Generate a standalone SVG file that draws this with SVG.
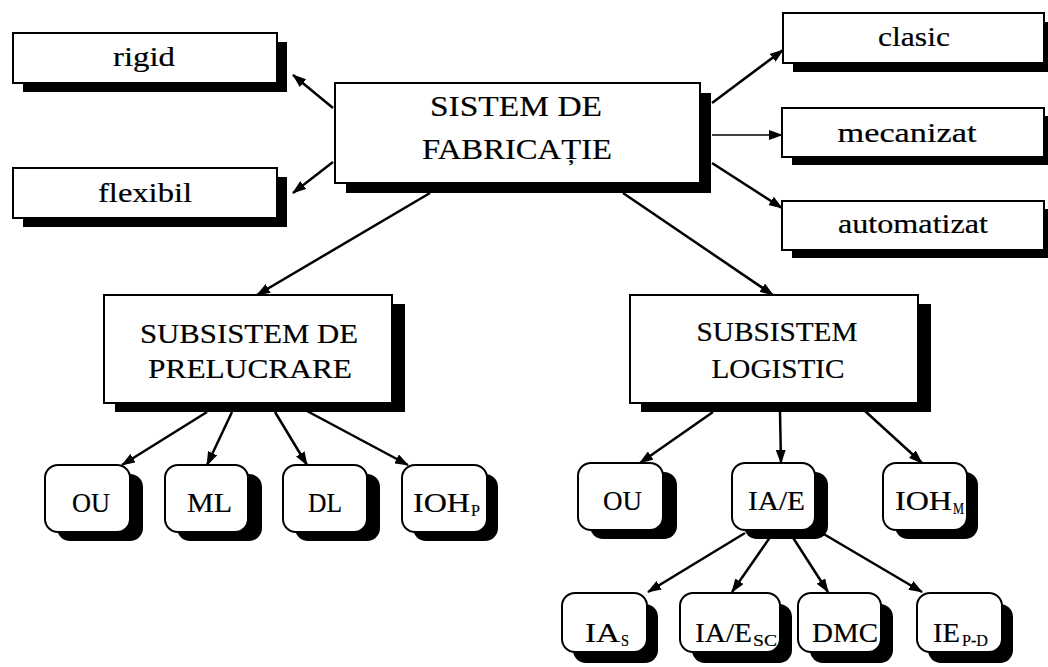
<svg xmlns="http://www.w3.org/2000/svg" width="1048" height="667" viewBox="0 0 1048 667">
  <style>
    .box { fill: #fff; stroke: #000; stroke-width: 2; }
    .shadow { fill: #000; }
    .lbl { font-family: "Liberation Serif", "Times New Roman", serif; fill: #000; stroke: #000; stroke-width: 0.2; }
    .sub { font-family: "Liberation Serif", "Times New Roman", serif; fill: #000; font-size: 17px; stroke: #000; stroke-width: 0.2; }
    .edge { stroke: #000; stroke-width: 2.5; fill: none; marker-end: url(#arrow); }
  </style>
  <defs>
    <marker id="arrow" markerUnits="userSpaceOnUse" markerWidth="14" markerHeight="10" refX="13" refY="5" orient="auto">
      <path d="M0,0 L14,5 L0,10 z" fill="#000"/>
    </marker>
  </defs>
  <rect width="1048" height="667" fill="#fff"/>

  <!-- connectors -->
  <g id="connectors">
    <line class="edge" x1="333" y1="108" x2="293" y2="75"/>
    <line class="edge" x1="333" y1="162" x2="293" y2="193"/>
    <line class="edge" x1="712" y1="103" x2="783" y2="50"/>
    <line class="edge" x1="712" y1="135" x2="782" y2="135" style="stroke-width:1.6"/>
    <line class="edge" x1="712" y1="163" x2="782" y2="208"/>
    <line class="edge" x1="430" y1="193" x2="257" y2="295"/>
    <line class="edge" x1="623" y1="193" x2="773" y2="295"/>
    <line class="edge" x1="207" y1="412" x2="122" y2="465"/>
    <line class="edge" x1="232" y1="412" x2="207" y2="465"/>
    <line class="edge" x1="275" y1="412" x2="307" y2="465"/>
    <line class="edge" x1="307" y1="411" x2="408" y2="465"/>
    <line class="edge" x1="713" y1="412" x2="640" y2="463"/>
    <line class="edge" x1="780" y1="412" x2="781" y2="463"/>
    <line class="edge" x1="865" y1="411" x2="922" y2="463"/>
    <line class="edge" x1="745" y1="533" x2="648" y2="592"/>
    <line class="edge" x1="773" y1="533" x2="732" y2="592"/>
    <line class="edge" x1="790" y1="533" x2="828" y2="592"/>
    <line class="edge" x1="822" y1="533" x2="922" y2="592"/>
  </g>

  <!-- top level -->
  <g id="sistem">
    <rect class="shadow" x="346" y="93" width="365" height="100"/>
    <rect class="box" x="335" y="83" width="365" height="100"/>
    <text class="lbl" x="516" y="116" font-size="30" text-anchor="middle" textLength="172" lengthAdjust="spacingAndGlyphs">SISTEM DE</text>
    <text class="lbl" x="517" y="159" font-size="30" text-anchor="middle" textLength="190" lengthAdjust="spacingAndGlyphs">FABRICAȚIE</text>
  </g>

  <!-- classification by flexibility -->
  <g id="rigid">
    <rect class="shadow" x="23" y="42" width="264" height="50"/>
    <rect class="box" x="13" y="33" width="264" height="50"/>
    <text class="lbl" x="144" y="66" font-size="27" text-anchor="middle" textLength="62" lengthAdjust="spacingAndGlyphs">rigid</text>
  </g>
  <g id="flexibil">
    <rect class="shadow" x="23" y="177" width="264" height="50"/>
    <rect class="box" x="13" y="168" width="264" height="50"/>
    <text class="lbl" x="145" y="202" font-size="27" text-anchor="middle" textLength="94" lengthAdjust="spacingAndGlyphs">flexibil</text>
  </g>

  <!-- classification by automation level -->
  <g id="clasic">
    <rect class="shadow" x="793" y="22" width="261" height="50"/>
    <rect class="box" x="783" y="13" width="261" height="50"/>
    <text class="lbl" x="914" y="46" font-size="27" text-anchor="middle" textLength="72" lengthAdjust="spacingAndGlyphs">clasic</text>
  </g>
  <g id="mecanizat">
    <rect class="shadow" x="792" y="116" width="262" height="49"/>
    <rect class="box" x="782" y="108" width="262" height="49"/>
    <text class="lbl" x="907" y="142" font-size="27" text-anchor="middle" textLength="139" lengthAdjust="spacingAndGlyphs">mecanizat</text>
  </g>
  <g id="automatizat">
    <rect class="shadow" x="792" y="209" width="262" height="49"/>
    <rect class="box" x="782" y="201" width="262" height="49"/>
    <text class="lbl" x="913" y="233" font-size="27" text-anchor="middle" textLength="150" lengthAdjust="spacingAndGlyphs">automatizat</text>
  </g>

  <!-- subsystems -->
  <g id="prelucrare">
    <rect class="shadow" x="115" y="304" width="290" height="108"/>
    <rect class="box" x="104" y="295" width="288" height="108"/>
    <text class="lbl" x="249" y="343" font-size="28" text-anchor="middle" textLength="218" lengthAdjust="spacingAndGlyphs">SUBSISTEM DE</text>
    <text class="lbl" x="250" y="378" font-size="28" text-anchor="middle" textLength="204" lengthAdjust="spacingAndGlyphs">PRELUCRARE</text>
  </g>
  <g id="logistic">
    <rect class="shadow" x="641" y="304" width="290" height="108"/>
    <rect class="box" x="630" y="295" width="288" height="108"/>
    <text class="lbl" x="777" y="341" font-size="28" text-anchor="middle" textLength="161" lengthAdjust="spacingAndGlyphs">SUBSISTEM</text>
    <text class="lbl" x="778" y="378" font-size="28" text-anchor="middle" textLength="133" lengthAdjust="spacingAndGlyphs">LOGISTIC</text>
  </g>

  <!-- processing subsystem components -->
  <g id="ou-p">
    <rect class="shadow" x="57" y="474" width="86" height="67" rx="13"/>
    <rect class="box" x="45" y="465" width="85" height="67" rx="13"/>
    <text class="lbl" x="72" y="512" font-size="28" textLength="38" lengthAdjust="spacingAndGlyphs">OU</text>
  </g>
  <g id="ml">
    <rect class="shadow" x="177" y="474" width="85" height="67" rx="13"/>
    <rect class="box" x="165" y="465" width="83" height="67" rx="13"/>
    <text class="lbl" x="187" y="512" font-size="28" textLength="45" lengthAdjust="spacingAndGlyphs">ML</text>
  </g>
  <g id="dl">
    <rect class="shadow" x="295" y="474" width="85" height="67" rx="13"/>
    <rect class="box" x="283" y="465" width="84" height="67" rx="13"/>
    <text class="lbl" x="308" y="512" font-size="28" textLength="34" lengthAdjust="spacingAndGlyphs">DL</text>
  </g>
  <g id="ioh-p">
    <rect class="shadow" x="413" y="474" width="85" height="67" rx="13"/>
    <rect class="box" x="402" y="465" width="85" height="67" rx="13"/>
    <text class="lbl" x="413" y="512" font-size="28" textLength="57" lengthAdjust="spacingAndGlyphs">IOH</text>
    <text class="sub" x="471" y="516" textLength="9" lengthAdjust="spacingAndGlyphs">P</text>
  </g>

  <!-- logistic subsystem components -->
  <g id="ou-l">
    <rect class="shadow" x="590" y="472" width="87" height="67" rx="13"/>
    <rect class="box" x="578" y="463" width="85" height="67" rx="13"/>
    <text class="lbl" x="603" y="510" font-size="28" textLength="39" lengthAdjust="spacingAndGlyphs">OU</text>
  </g>
  <g id="iae">
    <rect class="shadow" x="744" y="472" width="84" height="67" rx="13"/>
    <rect class="box" x="732" y="463" width="83" height="67" rx="13"/>
    <text class="lbl" x="748" y="510" font-size="28" textLength="57" lengthAdjust="spacingAndGlyphs">IA/E</text>
  </g>
  <g id="ioh-m">
    <rect class="shadow" x="895" y="472" width="83" height="67" rx="13"/>
    <rect class="box" x="883" y="463" width="84" height="67" rx="13"/>
    <text class="lbl" x="895" y="510" font-size="28" textLength="57" lengthAdjust="spacingAndGlyphs">IOH</text>
    <text class="sub" x="953" y="514" textLength="11" lengthAdjust="spacingAndGlyphs">M</text>
  </g>

  <!-- handling / transport components -->
  <g id="ia-s">
    <rect class="shadow" x="573" y="604" width="85" height="59" rx="13"/>
    <rect class="box" x="562" y="593" width="85" height="59" rx="13"/>
    <text class="lbl" x="585" y="642" font-size="28" textLength="35" lengthAdjust="spacingAndGlyphs">IA</text>
    <text class="sub" x="621" y="646" textLength="8" lengthAdjust="spacingAndGlyphs">S</text>
  </g>
  <g id="iae-sc">
    <rect class="shadow" x="692" y="604" width="100" height="59" rx="13"/>
    <rect class="box" x="680" y="593" width="100" height="59" rx="13"/>
    <text class="lbl" x="695" y="642" font-size="28" textLength="57" lengthAdjust="spacingAndGlyphs">IA/E</text>
    <text class="sub" x="753" y="646" textLength="24" lengthAdjust="spacingAndGlyphs">SC</text>
  </g>
  <g id="dmc">
    <rect class="shadow" x="810" y="604" width="83" height="59" rx="13"/>
    <rect class="box" x="798" y="593" width="83" height="59" rx="13"/>
    <text class="lbl" x="812" y="642" font-size="28" textLength="66" lengthAdjust="spacingAndGlyphs">DMC</text>
  </g>
  <g id="ie-pd">
    <rect class="shadow" x="928" y="604" width="85" height="59" rx="13"/>
    <rect class="box" x="917" y="593" width="85" height="59" rx="13"/>
    <text class="lbl" x="933" y="642" font-size="28" textLength="27" lengthAdjust="spacingAndGlyphs">IE</text>
    <text class="sub" x="962" y="646" textLength="26" lengthAdjust="spacingAndGlyphs">P-D</text>
  </g>
</svg>
